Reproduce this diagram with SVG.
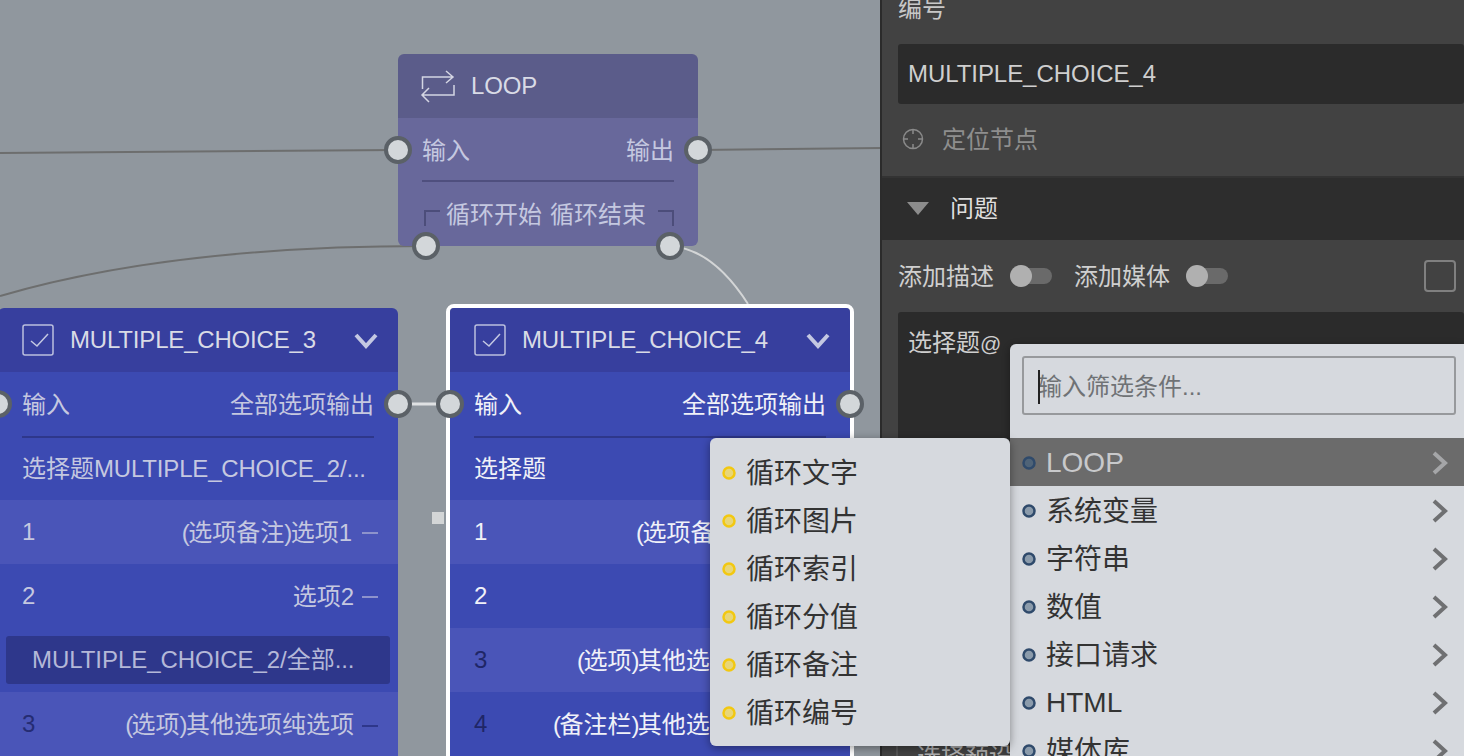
<svg xmlns="http://www.w3.org/2000/svg" width="1464" height="756" viewBox="0 0 1464 756">
<style>
text{font-family:"Liberation Sans","Noto Sans CJK SC",sans-serif;font-size:24px}
.m{fill:#d9dbe6}.d{fill:#c5c8e0}.e{text-anchor:end}
.l{letter-spacing:-.18px}
.p{letter-spacing:-1.6px}
.w{fill:#f0f1f8}
.port{fill:#d3d7da;stroke:#5b6167;stroke-width:4}
.edge{fill:none;stroke:#6d6e6e;stroke-width:2}
.edgel{fill:none;stroke:#d3d5d6;stroke-width:2}
.ol{fill:none;stroke:#c4c8e2;stroke-width:1.5}
.dash{stroke:#8d93cc;stroke-width:2}
.dt{fill:#333;font-size:28px}
.yd{fill:#e8d678;stroke:#f2c811;stroke-width:2.5}
.bd{fill:#8b9bab;stroke:#2f4a6b;stroke-width:2.5}
.ch{fill:none;stroke:#6f7072;stroke-width:4}
</style>
<defs>
<filter id="sh" x="-10%" y="-10%" width="120%" height="120%"><feDropShadow dx="0" dy="2" stdDeviation="5" flood-color="#000" flood-opacity=".4"/></filter>
<clipPath id="c3"><rect x="-2" y="308" width="400" height="480" rx="6"/></clipPath>
<clipPath id="c4"><rect x="450" y="308" width="400" height="480" rx="4"/></clipPath>
<clipPath id="cp"><rect x="1010" y="344" width="454" height="412"/></clipPath>
</defs>
<rect width="1464" height="756" fill="#90979e"/>

<g id="connectors">
<path class="edge" d="M0 153 C150 151 280 150 398 150"/>
<path class="edge" d="M0 296 C130 258 280 246 426 246"/>
<path class="edge" d="M698 150 L882 148"/>
<path class="edgel" d="M670 246 C700 248 725 268 748 304"/>
<path class="edgel" style="stroke-width:3;stroke:#dfe1e3" d="M398 404 H450"/>
</g>

<g id="node-loop">
<path d="M398 118V60a6 6 0 0 1 6-6H692a6 6 0 0 1 6 6V118Z" fill="#5b5c8a"/>
<path d="M398 118H698V240a6 6 0 0 1-6 6H404a6 6 0 0 1-6-6Z" fill="#68689b"/>
<g fill="none" stroke="#d4d5e3" stroke-width="1.5">
<path d="M422.500 89V77H453M446 71l7 6-7 6"/>
<path d="M454 85V95H423M429 88l-7 7 7 7"/>
</g>
<text x="471" y="94" class="m l">LOOP</text>
<text x="422" y="158.500" class="d">输入</text>
<text x="674" y="158.500" class="d e">输出</text>
<rect x="422" y="180" width="252" height="2" fill="#4f4f7e"/>
<text x="446" y="222.500" class="d">循环开始</text>
<text x="550" y="222.500" class="d">循环结束</text>
<path d="M425 226V211H440M658 211H673V226" fill="none" stroke="#4c4d7a" stroke-width="2"/>
<circle class="port" cx="398" cy="150" r="12"/>
<circle class="port" cx="698" cy="150" r="12"/>
<circle class="port" cx="426" cy="246" r="12"/>
<circle class="port" cx="670" cy="246" r="12"/>
</g>

<g id="node-mc3">
<g clip-path="url(#c3)">
<rect x="-2" y="308" width="400" height="64" fill="#373f9e"/>
<rect x="-2" y="372" width="400" height="384" fill="#3c4ab2"/>
<rect x="-2" y="500" width="400" height="64" fill="#4a55b8"/>
<rect x="-2" y="692" width="400" height="64" fill="#4a55b8"/>
</g>
<rect x="23" y="325" width="30" height="30" rx="2" fill="none" stroke="#bcc0de" stroke-width="1.5"/>
<path d="M31 341l6 5 11-12" class="ol"/>
<text x="70" y="348" class="m l">MULTIPLE_CHOICE_3</text>
<path d="M356 335l10 11 10-11" fill="none" stroke="#c4c8e2" stroke-width="4"/>
<text x="22" y="412.500" class="d">输入</text>
<text x="374" y="412.500" class="d e">全部选项输出</text>
<rect x="22" y="436" width="352" height="2" fill="#2e378b"/>
<text x="22" y="476.500" class="d">选择题<tspan class="l">MULTIPLE_CHOICE_2/...</tspan></text>
<text x="22" y="540" class="d">1</text>
<text x="352" y="540.500" class="d e"><tspan class="p">(</tspan>选项备注<tspan class="p">)</tspan>选项1</text>
<path class="dash" d="M362 533H378"/>
<text x="22" y="604" class="d">2</text>
<text x="354" y="604.500" class="d e">选项2</text>
<path class="dash" d="M362 597H378"/>
<rect x="6" y="636" width="384" height="48" rx="3" fill="#2e378b"/>
<text x="32" y="668" fill="#b4b8d8" style="letter-spacing:-.05px">MULTIPLE_CHOICE_2/全部...</text>
<text x="22" y="732" fill="#252c72">3</text>
<text x="354" y="732.500" class="d e"><tspan class="p">(</tspan>选项<tspan class="p">)</tspan>其他选项纯选项</text>
<path d="M362 726H378" stroke="#2e378b" stroke-width="2"/>
<circle class="port" cx="-2" cy="404" r="12"/>
<circle class="port" cx="398" cy="404" r="12"/>
</g>

<g id="node-mc4">
<rect x="448" y="306" width="404" height="480" rx="6" fill="none" stroke="#fff" stroke-width="4"/>
<g clip-path="url(#c4)">
<rect x="450" y="308" width="400" height="64" fill="#373f9e"/>
<rect x="450" y="372" width="400" height="384" fill="#3c4ab2"/>
<rect x="450" y="500" width="400" height="64" fill="#4a55b8"/>
<rect x="450" y="628" width="400" height="64" fill="#4a55b8"/>
</g>
<rect x="475" y="325" width="30" height="30" rx="2" fill="none" stroke="#bcc0de" stroke-width="1.5"/>
<path d="M483 341l6 5 11-12" class="ol"/>
<text x="522" y="348" class="m l">MULTIPLE_CHOICE_4</text>
<path d="M808 335l10 11 10-11" fill="none" stroke="#c4c8e2" stroke-width="4"/>
<text x="474" y="412.500" class="w">输入</text>
<text x="826" y="412.500" class="w e">全部选项输出</text>
<rect x="474" y="436" width="352" height="2" fill="#2e378b"/>
<text x="474" y="476.500" class="w">选择题</text>
<text x="474" y="540" class="w">1</text>
<text x="636" y="540.500" class="w"><tspan class="p">(</tspan>选项备</text>
<text x="474" y="604" class="w">2</text>
<text x="474" y="668" fill="#1f2666">3</text>
<text x="577" y="668.500" class="w"><tspan class="p">(</tspan>选项<tspan class="p">)</tspan>其他选</text>
<text x="474" y="732" fill="#1f2666">4</text>
<text x="553" y="732.500" class="w"><tspan class="p">(</tspan>备注栏<tspan class="p">)</tspan>其他选</text>
<circle class="port" cx="450" cy="404" r="12"/>
<circle class="port" cx="850" cy="404" r="12"/>
</g>
<rect x="432" y="512" width="12" height="12" fill="#d3d5d6"/>

<g id="panel">
<rect x="880" y="0" width="584" height="756" fill="#424242"/>
<rect x="880" y="0" width="2" height="756" fill="#2b2b2b"/>
<text x="898" y="16.500" fill="#c8c8c8">编号</text>
<rect x="898" y="44" width="566" height="60" rx="3" fill="#2b2b2b"/>
<text x="908" y="82" fill="#cfcfcf" style="letter-spacing:-.06px">MULTIPLE_CHOICE_4</text>
<g fill="none" stroke="#8a8a8a" stroke-width="1.5">
<circle cx="913" cy="139" r="9.5"/>
<path d="M913 129v5M913 144v5M903 139h5M918 139h5"/>
</g>
<text x="942" y="148" fill="#8e8e8e">定位节点</text>
<rect x="882" y="176" width="582" height="64" fill="#2d2d2d"/>
<rect x="882" y="176" width="582" height="2" fill="#333"/>
<path d="M907 202H929L918 215Z" fill="#8c8c8c"/>
<text x="950" y="216.500" fill="#dedede">问题</text>
<text x="898" y="284.500" fill="#cfcfcf">添加描述</text>
<rect x="1018" y="268" width="34" height="16" rx="8" fill="#6a6a6a"/>
<circle cx="1021" cy="276" r="11" fill="#b0b0b0"/>
<text x="1074" y="284.500" fill="#cfcfcf">添加媒体</text>
<rect x="1194" y="268" width="34" height="16" rx="8" fill="#6a6a6a"/>
<circle cx="1197" cy="276" r="11" fill="#b0b0b0"/>
<rect x="1425" y="261" width="30" height="30" rx="3" fill="none" stroke="#808080" stroke-width="2"/>
<rect x="898" y="312" width="566" height="434" rx="3" fill="#2b2b2b"/>
<text x="908" y="350.500" fill="#cfcfcf">选择题<tspan style="font-size:21px">@</tspan></text>
<rect x="896" y="746" width="2" height="10" fill="#555"/>
<text x="917" y="765" fill="#b0b0b0">选择预设</text>
</g>

<g id="menu" filter="url(#sh)">
<path d="M1010 756V350a6 6 0 0 1 6-6H1464V756Z" fill="#d6d9de"/>
</g>
<g id="menu-items">
<rect x="1023" y="357" width="432" height="57" rx="2" fill="none" stroke="#97999c" stroke-width="2"/>
<text x="1038" y="394.500" fill="#6f7275">输入筛选条件...</text>
<rect x="1038" y="370" width="2" height="34" fill="#222"/>
<rect x="1010" y="438" width="454" height="48" fill="#6b6b6b"/>
<g clip-path="url(#cp)">
<circle class="bd" cx="1029" cy="463" r="5.5" style="fill:#4f6377"/>
<text x="1046" y="472" style="font-size:28px" fill="#c8c9cb">LOOP</text>
<path class="ch" d="M1434 453l11 10-11 10" style="stroke:#a5a6a8"/>
<circle class="bd" cx="1029" cy="511" r="5.5"/><text class="dt" x="1046" y="521">系统变量</text><path class="ch" d="M1434 501l11 10-11 10"/>
<circle class="bd" cx="1029" cy="559" r="5.5"/><text class="dt" x="1046" y="569">字符串</text><path class="ch" d="M1434 549l11 10-11 10"/>
<circle class="bd" cx="1029" cy="607" r="5.5"/><text class="dt" x="1046" y="617">数值</text><path class="ch" d="M1434 597l11 10-11 10"/>
<circle class="bd" cx="1029" cy="655" r="5.5"/><text class="dt" x="1046" y="665">接口请求</text><path class="ch" d="M1434 645l11 10-11 10"/>
<circle class="bd" cx="1029" cy="703" r="5.5"/><text class="dt" x="1046" y="712">HTML</text><path class="ch" d="M1434 693l11 10-11 10"/>
<circle class="bd" cx="1029" cy="751" r="5.5"/><text class="dt" x="1046" y="761">媒体库</text><path class="ch" d="M1434 741l11 10-11 10"/>
</g>
</g>

<g id="popup">
<rect x="710" y="438" width="300" height="308" rx="6" fill="#d6d9de" filter="url(#sh)"/>
<circle class="yd" cx="729" cy="473" r="5.5"/><text class="dt" x="746" y="483">循环文字</text>
<circle class="yd" cx="729" cy="521" r="5.5"/><text class="dt" x="746" y="531">循环图片</text>
<circle class="yd" cx="729" cy="569" r="5.5"/><text class="dt" x="746" y="579">循环索引</text>
<circle class="yd" cx="729" cy="617" r="5.5"/><text class="dt" x="746" y="627">循环分值</text>
<circle class="yd" cx="729" cy="665" r="5.5"/><text class="dt" x="746" y="675">循环备注</text>
<circle class="yd" cx="729" cy="713" r="5.5"/><text class="dt" x="746" y="723">循环编号</text>
</g>
</svg>
